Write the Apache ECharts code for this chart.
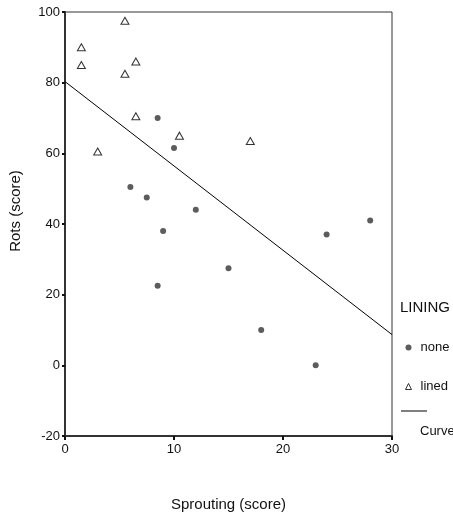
<!DOCTYPE html>
<html>
<head>
<meta charset="utf-8">
<script src="https://cdn.jsdelivr.net/npm/echarts@6/dist/echarts.min.js"></script>
<style>
  html, body { margin: 0; padding: 0; background: #fff; }
  #chart { width: 453px; height: 517px; }
</style>
</head>
<body>
<div id="chart"></div>
<script>
// scores
const noneX = [8.5, 10, 6, 7.5, 12, 9, 8.5, 15, 18, 23, 24, 28];
const noneY = [70, 61.5, 50.5, 47.5, 44, 38, 22.5, 27.5, 10, 0, 37, 41];
const linedX = [1.5, 1.5, 5.5, 5.5, 6.5, 6.5, 3, 10.5, 17];
const linedY = [90, 85, 97.5, 82.5, 86, 70.5, 60.5, 65, 63.5];
// fitted line end points
const fitX = [0, 30];
const fitY = [80.3, 8.7];
const xTicks = [0, 10, 20, 30];
const yTicks = [-20, 0, 20, 40, 60, 80, 100];

const FONT = "'Liberation Sans', Arial, sans-serif";
const zip = (xs, ys) => xs.map((x, i) => [x, ys[i]]);

const chart = echarts.init(document.getElementById('chart'));
chart.setOption({
  backgroundColor: '#fff',
  animation: false,
  grid: {
    left: 64, right: 61, top: 12, bottom: 78,
    show: true, borderColor: '#333', borderWidth: 1, backgroundColor: 'transparent'
  },
  title: {
    text: 'LINING', left: 400, top: 300,
    textStyle: { fontFamily: FONT, fontSize: 15, fontWeight: 'normal', color: '#111' },
    padding: 0
  },
  legend: {
    orient: 'vertical', left: 405, top: 341, padding: 0,
    itemWidth: 6, itemHeight: 6, itemGap: 26,
    textStyle: { fontFamily: FONT, fontSize: 13, color: '#111', padding: [0, 0, 0, 4] },
    data: [
      { name: 'none', icon: 'circle', itemStyle: { color: '#333' } },
      { name: 'lined', icon: 'triangle', itemStyle: { color: '#fff', borderColor: '#000', borderWidth: 1 } }
    ]
  },
  graphic: [
    { type: 'line', shape: { x1: 401, y1: 411, x2: 427, y2: 411 }, style: { stroke: '#000', lineWidth: 1 } },
    { type: 'text', left: 420, top: 425, style: { text: 'Curve', font: '13px ' + FONT, fill: '#111' } }
  ],
  xAxis: {
    type: 'value', min: 0, max: 30, interval: 10,
    name: 'Sprouting (score)', nameLocation: 'middle', nameGap: 61,
    nameTextStyle: { fontFamily: FONT, fontSize: 15, color: '#111' },
    axisLine: { onZero: false, lineStyle: { color: '#333', width: 2 } },
    axisTick: { show: true, length: 4, lineStyle: { color: '#111', width: 2 } },
    axisLabel: { fontFamily: FONT, fontSize: 13, color: '#111', margin: 7,
      customValues: xTicks },
    splitLine: { show: false }
  },
  yAxis: {
    type: 'value', min: -20, max: 100, interval: 20,
    name: 'Rots (score)', nameLocation: 'middle', nameGap: 42,
    nameTextStyle: { fontFamily: FONT, fontSize: 15, color: '#111',
      padding: [0, 0, 0, 26] },
    axisLine: { onZero: false, lineStyle: { color: '#333', width: 2 } },
    axisTick: { show: true, length: 3, lineStyle: { color: '#111', width: 2 } },
    axisLabel: { fontFamily: FONT, fontSize: 13, color: '#111', margin: 5,
      customValues: yTicks },
    splitLine: { show: false }
  },
  series: [
    {
      name: 'none', type: 'scatter', symbol: 'circle', symbolSize: 6,
      itemStyle: { color: '#333' },
      data: zip(noneX, noneY), z: 3
    },
    {
      name: 'lined', type: 'scatter', symbol: 'triangle', symbolSize: [8, 7],
      itemStyle: { color: '#fff', borderColor: '#000', borderWidth: 1 },
      data: zip(linedX, linedY), z: 3
    },
    {
      name: 'Curve', type: 'line', symbol: 'none', silent: true,
      lineStyle: { color: '#000', width: 1 },
      data: zip(fitX, fitY), z: 2
    }
  ]
});
</script>
</body>
</html>
